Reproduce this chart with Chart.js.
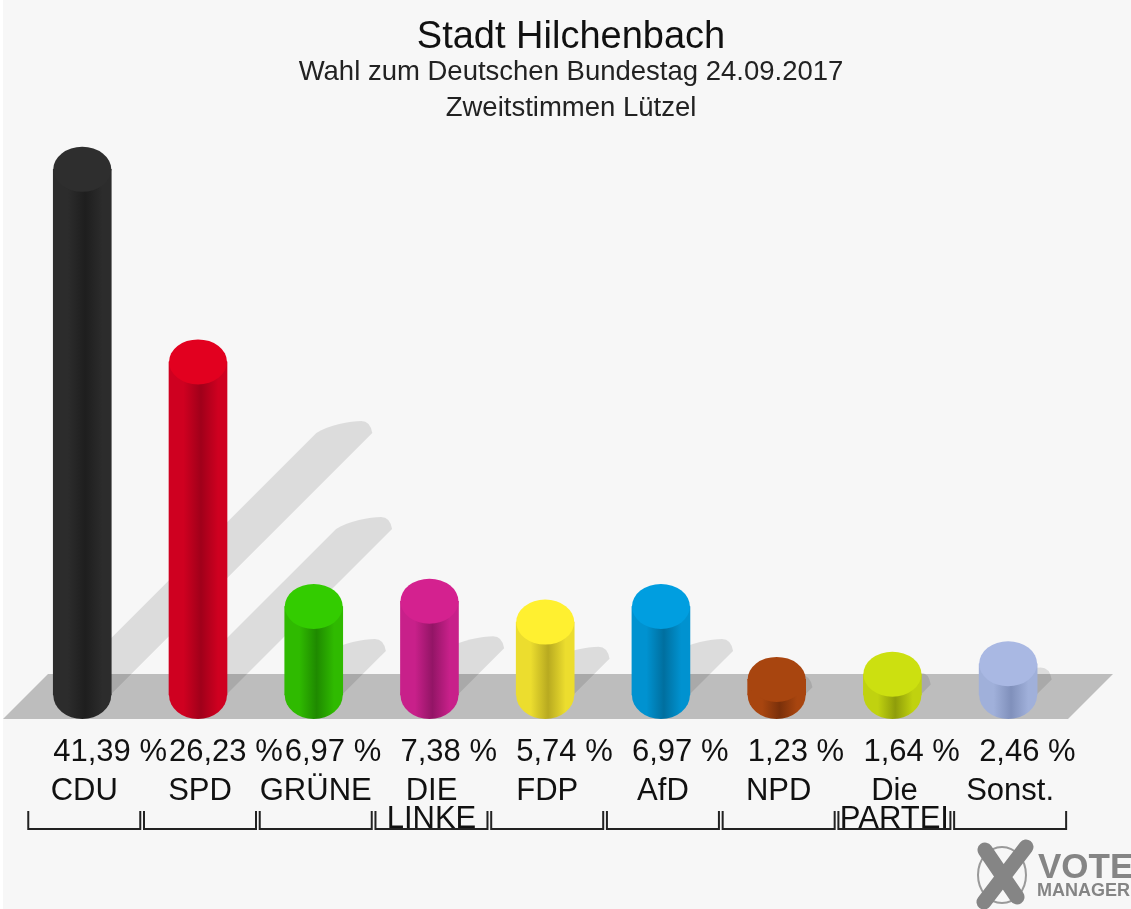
<!DOCTYPE html>
<html lang="de">
<head>
<meta charset="utf-8">
<title>Stadt Hilchenbach</title>
<script src="https://cdn.jsdelivr.net/npm/chart.js@4"></script>
<style>
    html, body { margin: 0; padding: 0; background: #ffffff; }
    canvas { display: block; }
</style>
</head>
<body>
<canvas id="grafico" width="1131" height="909"></canvas>
<script>
const partidos = ["CDU", "SPD", "GRÜNE", ["DIE", "LINKE"], "FDP", "AfD", "NPD", ["Die", "PARTEI"], "Sonst."];
const valores = [41.39, 26.23, 6.97, 7.38, 5.74, 6.97, 1.23, 1.64, 2.46];
const titulo = "Stadt Hilchenbach";
const subtitulo = ["Wahl zum Deutschen Bundestag 24.09.2017", "Zweitstimmen Lützel"];

// tapa, borde del cuerpo, centro del cuerpo
const colorTapa = ["#2e2e2e", "#e2001f", "#33cc00", "#d4218f", "#fff030", "#009ee0", "#a8450f", "#cce010", "#a9b8e3"];
const colorBorde = ["#2c2c2c", "#cf0020", "#2fba00", "#c8208a", "#ecdd2e", "#0092d0", "#a8450f", "#c0d20f", "#a0b0da"];
const colorCentro = ["#1e1e1e", "#a0001a", "#1f8a00", "#931566", "#b8aa20", "#006f9f", "#7a300a", "#8f9d0a", "#8090bb"];

const ANCHO_BARRA = 58;
const RADIO_Y = 22.5;
const RADIO_BASE = 24;
const fuente = "'Liberation Sans', Arial, sans-serif";

function degradado(ctx, x, i) {
    if (!Number.isFinite(x)) return colorBorde[i];
    const g = ctx.createLinearGradient(x - ANCHO_BARRA / 2, 0, x + ANCHO_BARRA / 2, 0);
    g.addColorStop(0, colorBorde[i]);
    g.addColorStop(0.25, colorBorde[i]);
    g.addColorStop(0.55, colorCentro[i]);
    g.addColorStop(0.85, colorBorde[i]);
    g.addColorStop(1, colorBorde[i]);
    return g;
}

const fondoPlugin = {
    id: "fondo",
    beforeDraw(chart) {
        const ctx = chart.ctx;
        ctx.save();
        ctx.fillStyle = "#f7f7f7";
        ctx.fillRect(3, 0, chart.width - 3, chart.height);
        ctx.restore();
    },
    beforeDatasetsDraw(chart) {
        const ctx = chart.ctx;
        const base = chart.scales.y.getPixelForValue(0);
        const barras = chart.getDatasetMeta(0).data;

        // suelo
        ctx.save();
        ctx.fillStyle = "#bdbdbd";
        ctx.beginPath();
        ctx.moveTo(3, base + RADIO_BASE);
        ctx.lineTo(1068, base + RADIO_BASE);
        ctx.lineTo(1113, base + RADIO_BASE - 45);
        ctx.lineTo(48, base + RADIO_BASE - 45);
        ctx.closePath();
        ctx.fill();

        // sombras
        ctx.fillStyle = "rgba(0,0,0,0.105)";
        barras.forEach(b => {
            const largo = (base - b.y) * 0.4985;
            const ex = b.x + largo;
            const ey = base - largo;
            ctx.beginPath();
            ctx.moveTo(b.x - 28, base);
            ctx.lineTo(b.x + 28, base);
            ctx.lineTo(ex + 28, ey);
            ctx.quadraticCurveTo(ex + 26, ey - 12, ex + 17, ey - 12);
            ctx.bezierCurveTo(ex + 6, ey - 12, ex - 16, ey - 8, ex - 28, ey);
            ctx.closePath();
            ctx.fill();
        });

        // elipse inferior
        barras.forEach((b, i) => {
            ctx.fillStyle = degradado(ctx, b.x, i);
            ctx.beginPath();
            ctx.ellipse(b.x, base, ANCHO_BARRA / 2, RADIO_BASE, 0, 0, Math.PI * 2);
            ctx.fill();
        });
        ctx.restore();
    },
    afterDatasetsDraw(chart) {
        const ctx = chart.ctx;
        const barras = chart.getDatasetMeta(0).data;
        ctx.save();
        barras.forEach((b, i) => {
            ctx.fillStyle = colorTapa[i];
            ctx.beginPath();
            ctx.ellipse(b.x, b.y, ANCHO_BARRA / 2, RADIO_Y, 0, 0, Math.PI * 2);
            ctx.fill();
        });

        // porcentajes, alineados al borde izquierdo de cada barra
        ctx.fillStyle = "#111111";
        ctx.font = "31px " + fuente;
        ctx.textAlign = "left";
        ctx.textBaseline = "middle";
        barras.forEach((b, i) => {
            const texto = valores[i].toFixed(2).replace(".", ",") + " %";
            ctx.fillText(texto, b.x - ANCHO_BARRA / 2, 752);
        });

        // corchetes bajo las etiquetas
        ctx.strokeStyle = "#222222";
        ctx.lineWidth = 2;
        barras.forEach(b => {
            const cx = b.x + 2;
            ctx.beginPath();
            ctx.moveTo(cx - 56, 811);
            ctx.lineTo(cx - 56, 829);
            ctx.lineTo(cx + 56, 829);
            ctx.lineTo(cx + 56, 811);
            ctx.stroke();
        });
        ctx.restore();
        dibujarLogo(ctx);
    }
};

function dibujarLogo(ctx) {
    ctx.save();
    ctx.strokeStyle = "#9a9a9a";
    ctx.lineWidth = 2;
    ctx.beginPath();
    ctx.ellipse(1002, 875, 24, 28, 0, 0, Math.PI * 2);
    ctx.stroke();
    ctx.strokeStyle = "#858585";
    ctx.lineWidth = 15;
    ctx.lineCap = "round";
    ctx.beginPath();
    ctx.moveTo(985, 850);
    ctx.lineTo(1017, 897);
    ctx.moveTo(1026, 847);
    ctx.lineTo(984, 902);
    ctx.stroke();
    ctx.fillStyle = "#858585";
    ctx.textAlign = "left";
    ctx.textBaseline = "alphabetic";
    ctx.font = "bold 35px " + fuente;
    ctx.fillText("VOTE", 1038, 878);
    ctx.font = "bold 18px " + fuente;
    ctx.fillText("MANAGER", 1037, 896);
    ctx.restore();
}

const ctx = document.getElementById("grafico").getContext("2d");
new Chart(ctx, {
    type: "bar",
    data: {
        labels: partidos,
        datasets: [{
            data: valores,
            barThickness: ANCHO_BARRA,
            borderWidth: 0,
            backgroundColor(c) {
                const x = c.chart.scales.x ? c.chart.scales.x.getPixelForValue(c.dataIndex) : NaN;
                return degradado(c.chart.ctx, x, c.dataIndex);
            }
        }]
    },
    options: {
        responsive: false,
        animation: false,
        layout: { padding: { left: 11, right: 0, top: 0, bottom: 0 } },
        plugins: {
            legend: { display: false },
            tooltip: { enabled: false },
            title: {
                display: true,
                text: titulo,
                color: "#111111",
                font: { family: fuente, size: 38, weight: "normal", lineHeight: 0.9 },
                padding: { top: 20, bottom: 0 }
            },
            subtitle: {
                display: true,
                text: subtitulo,
                color: "#222222",
                font: { family: fuente, size: 27.5, weight: "normal", lineHeight: 1.309 },
                padding: 0
            }
        },
        scales: {
            x: {
                grid: { display: false, drawTicks: false },
                border: { display: false },
                afterFit(s) { s.height = 149; },
                ticks: {
                    color: "#111111",
                    font: { family: fuente, size: 31, lineHeight: 0.9 },
                    padding: 18,
                    maxRotation: 0,
                    autoSkip: false,
                    labelOffset: 2
                }
            },
            y: {
                min: -5.118,
                max: 44.79,
                afterFit(s) { s.width = 13.4; },
                grid: { display: false },
                border: { display: false },
                ticks: { display: false }
            },
            derecha: {
                position: "right",
                afterFit(s) { s.width = 65; },
                grid: { display: false },
                border: { display: false },
                ticks: { display: false }
            }
        }
    },
    plugins: [fondoPlugin]
});
</script>
</body>
</html>
